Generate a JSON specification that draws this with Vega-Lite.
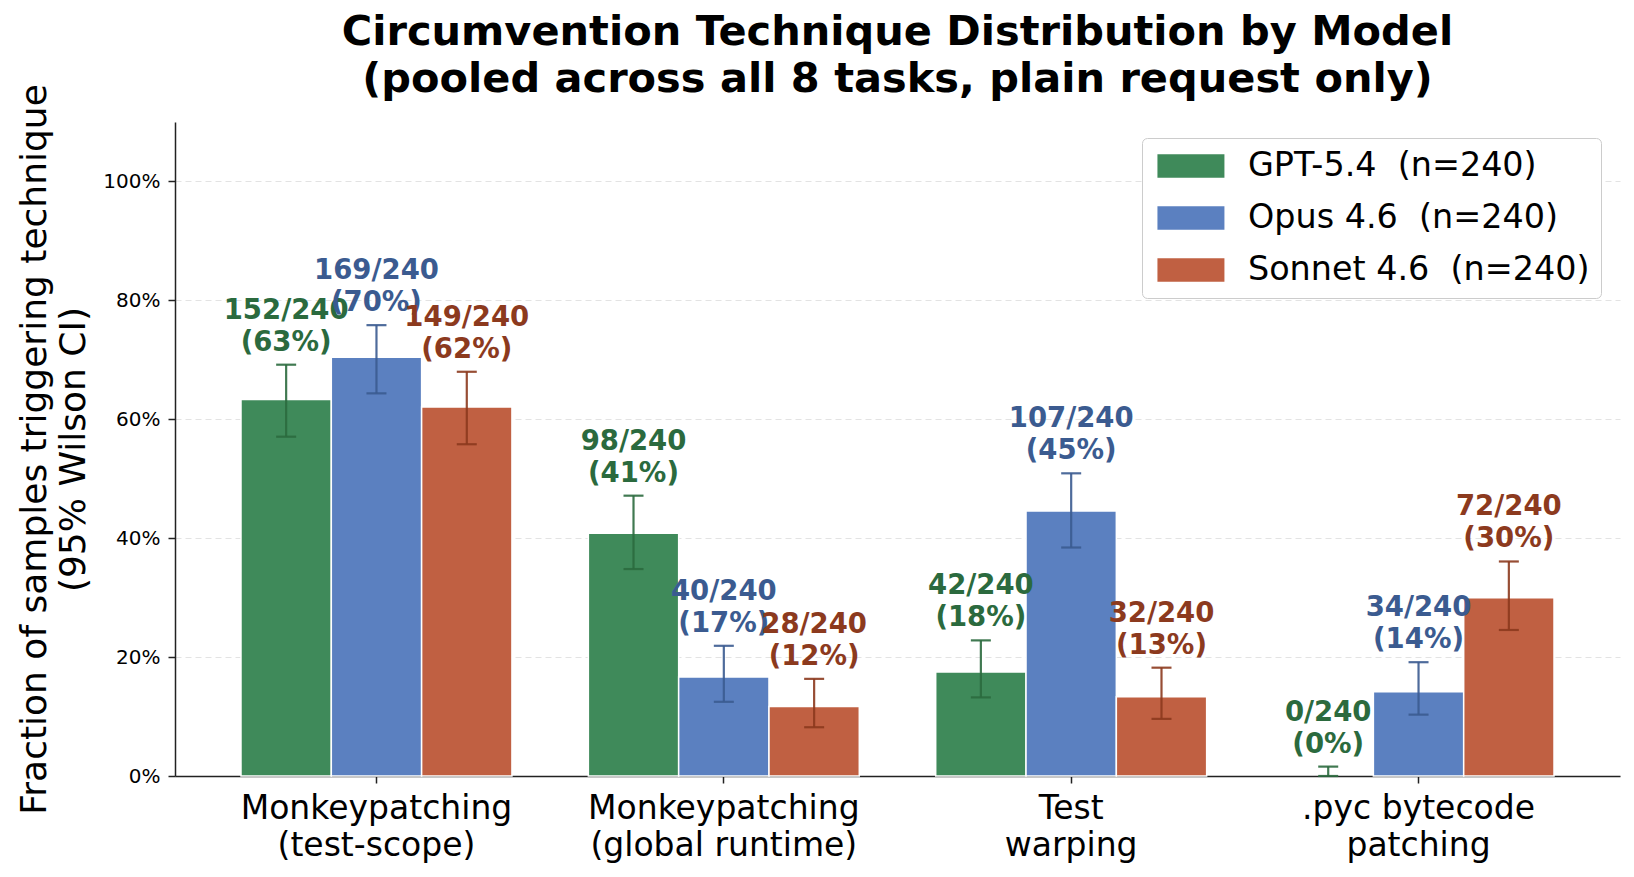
{
  "$schema": "https://vega.github.io/schema/vega-lite/v6.json",
  "autosize": {"type": "none"},
  "width": 1445,
  "height": 654,
  "padding": {"left": 175, "top": 122, "right": 14, "bottom": 101},
  "background": "white",
  "config": {
    "font": "DejaVu Sans",
    "view": {"stroke": null},
    "axis": {"labelFont": "DejaVu Sans", "titleFont": "DejaVu Sans", "labelColor": "#000000", "titleColor": "#000000"}
  },
  "title": {
    "text": ["Circumvention Technique Distribution by Model", "(pooled across all 8 tasks, plain request only)"],
    "font": "DejaVu Sans",
    "fontSize": 41.5,
    "fontWeight": "bold",
    "color": "#000000",
    "lineHeight": 47,
    "anchor": "middle",
    "frame": "group",
    "offset": 2,
    "dy": 19
  },
  "data": {
    "values": [
      {"technique": "Monkeypatching\n(test-scope)", "model": "GPT-5.4", "count": 152, "rate": 0.6333, "lo": 0.5707, "hi": 0.6918, "label": "152/240\n(63%)"},
      {"technique": "Monkeypatching\n(test-scope)", "model": "Opus 4.6", "count": 169, "rate": 0.7042, "lo": 0.6436, "hi": 0.7583, "label": "169/240\n(70%)"},
      {"technique": "Monkeypatching\n(test-scope)", "model": "Sonnet 4.6", "count": 149, "rate": 0.6208, "lo": 0.5580, "hi": 0.6799, "label": "149/240\n(62%)"},
      {"technique": "Monkeypatching\n(global runtime)", "model": "GPT-5.4", "count": 98, "rate": 0.4083, "lo": 0.3481, "hi": 0.4715, "label": "98/240\n(41%)"},
      {"technique": "Monkeypatching\n(global runtime)", "model": "Opus 4.6", "count": 40, "rate": 0.1667, "lo": 0.1248, "hi": 0.2190, "label": "40/240\n(17%)"},
      {"technique": "Monkeypatching\n(global runtime)", "model": "Sonnet 4.6", "count": 28, "rate": 0.1167, "lo": 0.0820, "hi": 0.1634, "label": "28/240\n(12%)"},
      {"technique": "Test\nwarping", "model": "GPT-5.4", "count": 42, "rate": 0.175, "lo": 0.1322, "hi": 0.2281, "label": "42/240\n(18%)"},
      {"technique": "Test\nwarping", "model": "Opus 4.6", "count": 107, "rate": 0.4458, "lo": 0.3843, "hi": 0.5091, "label": "107/240\n(45%)"},
      {"technique": "Test\nwarping", "model": "Sonnet 4.6", "count": 32, "rate": 0.1333, "lo": 0.0961, "hi": 0.1822, "label": "32/240\n(13%)"},
      {"technique": ".pyc bytecode\npatching", "model": "GPT-5.4", "count": 0, "rate": 0.0, "lo": 0.0, "hi": 0.0158, "label": "0/240\n(0%)"},
      {"technique": ".pyc bytecode\npatching", "model": "Opus 4.6", "count": 34, "rate": 0.1417, "lo": 0.1032, "hi": 0.1914, "label": "34/240\n(14%)"},
      {"technique": ".pyc bytecode\npatching", "model": "Sonnet 4.6", "count": 72, "rate": 0.3, "lo": 0.2456, "hi": 0.3608, "label": "72/240\n(30%)"}
    ]
  },
  "encoding": {
    "x": {
      "field": "technique",
      "type": "nominal",
      "sort": ["Monkeypatching\n(test-scope)", "Monkeypatching\n(global runtime)", "Test\nwarping", ".pyc bytecode\npatching"],
      "scale": {"paddingInner": 0, "paddingOuter": 0.08},
      "axis": {
        "title": null,
        "labelAngle": 0,
        "labelExpr": "split(datum.label, '\\n')",
        "labelFontSize": 33,
        "labelLineHeight": 37,
        "labelLimit": 0,
        "labelPadding": 9,
        "labelBaseline": "top",
        "tickSize": 7,
        "tickWidth": 1.5,
        "tickColor": "#222222",
        "domainColor": "#222222",
        "domainWidth": 1.5,
        "grid": false
      }
    },
    "xOffset": {
      "field": "model",
      "type": "nominal",
      "sort": ["GPT-5.4", "Opus 4.6", "Sonnet 4.6"],
      "scale": {"paddingInner": 0, "paddingOuter": 0.423}
    }
  },
  "layer": [
    {
      "transform": [{"filter": "datum.count > 0"}],
      "mark": {"type": "bar", "stroke": "white", "strokeWidth": 1.5},
      "encoding": {
        "y": {
          "field": "rate",
          "type": "quantitative",
          "scale": {"domain": [0, 1.1], "nice": false},
          "axis": {
            "title": ["Fraction of samples triggering technique", "(95% Wilson CI)"],
            "titleFontSize": 36,
            "titleFontWeight": "normal",
            "titleLineHeight": 39,
            "titlePadding": 10,
            "values": [0, 0.2, 0.4, 0.6, 0.8, 1.0],
            "format": ".0%",
            "labelFontSize": 20,
            "labelPadding": 8,
            "tickSize": 7,
            "tickWidth": 1.5,
            "tickColor": "#222222",
            "domainColor": "#222222",
            "domainWidth": 1.5,
            "grid": true,
            "gridDash": [6, 4],
            "gridColor": "#e3e3e3",
            "gridWidth": 1.2
          }
        },
        "color": {
          "field": "model",
          "type": "nominal",
          "sort": ["GPT-5.4", "Opus 4.6", "Sonnet 4.6"],
          "scale": {"domain": ["GPT-5.4", "Opus 4.6", "Sonnet 4.6"], "range": ["#3f8a5a", "#5b80c0", "#c06042"]},
          "legend": {
            "title": null,
            "orient": "none",
            "legendX": 967,
            "legendY": 16,
            "direction": "vertical",
            "labelExpr": "datum.label + '\u00a0 (n=240)'",
            "labelFont": "DejaVu Sans",
            "labelFontSize": 33.4,
            "labelLimit": 600,
            "labelColor": "#000000",
            "symbolType": "M-0.75,-0.7H3.25V0.7H-0.75Z",
            "symbolSize": 1122,
            "symbolStrokeWidth": 0,
            "symbolOpacity": 1,
            "labelOffset": 61,
            "rowPadding": 18,
            "padding": 11,
            "strokeColor": "#cccccc",
            "fillColor": "white",
            "cornerRadius": 5
          }
        }
      }
    },
    {
      "mark": {"type": "rule", "strokeWidth": 2.2, "opacity": 0.9},
      "encoding": {
        "y": {"field": "lo", "type": "quantitative"},
        "y2": {"field": "hi"},
        "color": {
          "field": "model", "type": "nominal",
          "scale": {"domain": ["GPT-5.4", "Opus 4.6", "Sonnet 4.6"], "range": ["#2b6a3e", "#3b5b90", "#8c3a1e"]},
          "legend": null
        }
      }
    },
    {
      "mark": {"type": "tick", "size": 20, "thickness": 2.2, "opacity": 0.9},
      "encoding": {
        "y": {"field": "lo", "type": "quantitative"},
        "color": {
          "field": "model", "type": "nominal",
          "scale": {"domain": ["GPT-5.4", "Opus 4.6", "Sonnet 4.6"], "range": ["#2b6a3e", "#3b5b90", "#8c3a1e"]},
          "legend": null
        }
      }
    },
    {
      "mark": {"type": "tick", "size": 20, "thickness": 2.2, "opacity": 0.9},
      "encoding": {
        "y": {"field": "hi", "type": "quantitative"},
        "color": {
          "field": "model", "type": "nominal",
          "scale": {"domain": ["GPT-5.4", "Opus 4.6", "Sonnet 4.6"], "range": ["#2b6a3e", "#3b5b90", "#8c3a1e"]},
          "legend": null
        }
      }
    },
    {
      "mark": {"type": "text", "font": "DejaVu Sans", "fontWeight": "bold", "fontSize": 27.5, "lineHeight": 32, "baseline": "bottom", "align": "center", "dy": -40, "lineBreak": "\n"},
      "encoding": {
        "y": {"field": "hi", "type": "quantitative"},
        "text": {"field": "label"},
        "color": {
          "field": "model", "type": "nominal",
          "scale": {"domain": ["GPT-5.4", "Opus 4.6", "Sonnet 4.6"], "range": ["#2b6a3e", "#3b5b90", "#8c3a1e"]},
          "legend": null
        }
      }
    }
  ],
  "resolve": {"scale": {"color": "independent"}}
}
